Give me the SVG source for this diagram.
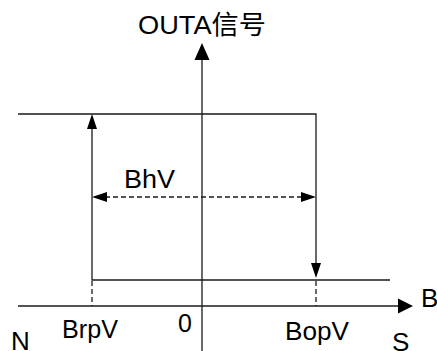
<svg xmlns="http://www.w3.org/2000/svg" width="437" height="351" viewBox="0 0 437 351">
<style>
.ln{stroke:#1a1a1a;stroke-width:1.3;fill:none}
.ds{stroke:#1a1a1a;stroke-width:1.3;fill:none;stroke-dasharray:5 3}
.ah{fill:#000;stroke:none}
text{font-family:"Liberation Sans",Arial,"Noto Sans CJK SC",sans-serif;font-size:25px;fill:#000}
.lg{font-size:26px}
</style>
<rect width="437" height="351" fill="#fff"/>
<g id="axes">
<line class="ln" x1="202" y1="58" x2="202" y2="351"/>
<polygon class="ah" points="202,43 194.5,60 209.5,60"/>
<line class="ln" x1="18" y1="306" x2="400" y2="306"/>
<polygon class="ah" points="413,306 398,298.5 398,313.5"/>
</g>
<g id="connectors">
<polyline class="ln" points="18,114 316,114 316,264"/>
<polygon class="ah" points="316,278 311,263 321,263"/>
<polyline class="ln" points="92,127 92,280 390,280"/>
<polygon class="ah" points="92,114 87,129 97,129"/>
<line class="ds" x1="105" y1="197" x2="303" y2="197"/>
<polygon class="ah" points="92,197 107,192 107,202"/>
<polygon class="ah" points="316,197 301,192 301,202"/>
<line class="ds" x1="92" y1="281" x2="92" y2="306"/>
<line class="ds" x1="316" y1="281" x2="316" y2="306"/>
</g>
<g id="labels">
<text class="lg" x="138" y="34" textLength="128" lengthAdjust="spacingAndGlyphs">OUTA信号</text>
<text class="lg" x="124" y="188" textLength="51" lengthAdjust="spacingAndGlyphs">BhV</text>
<text x="62" y="338" textLength="56" lengthAdjust="spacingAndGlyphs">BrpV</text>
<text x="178" y="332">0</text>
<text x="285" y="340" textLength="64" lengthAdjust="spacingAndGlyphs">BopV</text>
<text class="lg" x="11" y="350">N</text>
<text class="lg" x="392" y="351">S</text>
<text class="lg" x="421" y="307">B</text>
</g>
</svg>
